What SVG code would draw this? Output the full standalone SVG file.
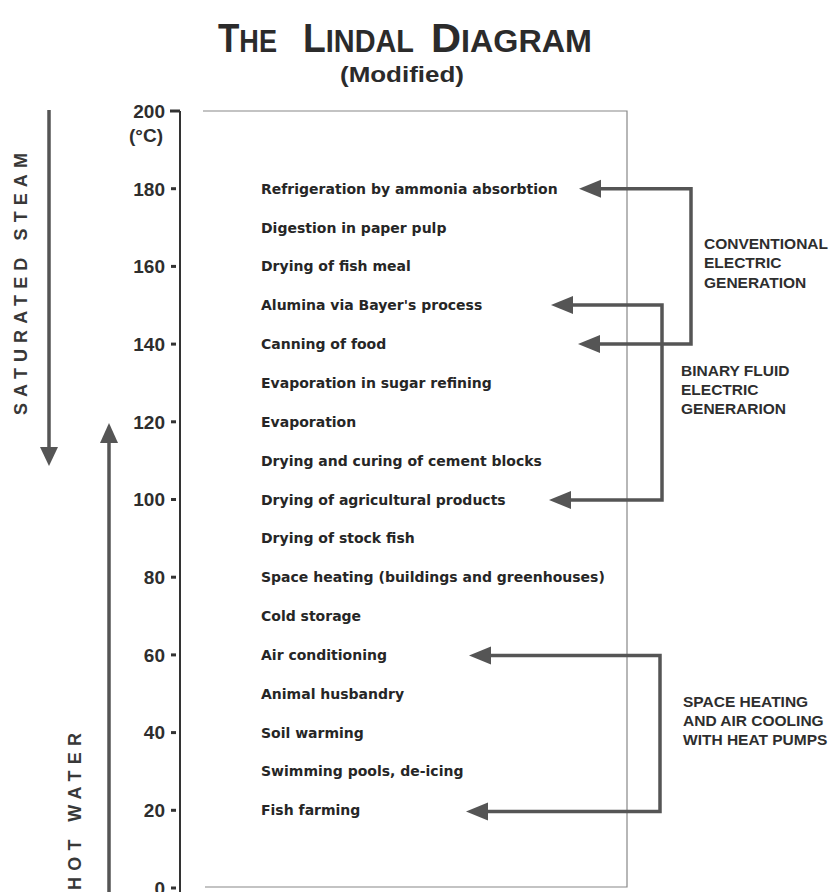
<svg xmlns="http://www.w3.org/2000/svg" width="835" height="892" viewBox="0 0 835 892">
<style>
.title{font-family:"Liberation Sans",Arial,sans-serif;font-weight:bold;fill:#2b2b2b}
.tick{font-family:"Liberation Sans",Arial,sans-serif;font-weight:bold;font-size:19px;fill:#2e2e2e;text-anchor:end}
.item{font-family:"DejaVu Sans",sans-serif;font-weight:bold;font-size:14px;fill:#262626}
.grp{font-family:"Liberation Sans",Arial,sans-serif;font-weight:bold;font-size:15.5px;fill:#2e2e2e}
.side{font-family:"Liberation Sans",Arial,sans-serif;font-weight:bold;font-size:18px;fill:#383838}
.axis{stroke:#333;stroke-width:2;fill:none}
.tk{stroke:#333;stroke-width:3}
.box{stroke:#888;stroke-width:1.2;fill:none}
.conn{stroke:#555;stroke-width:3.5;fill:none}
.head{fill:#555}
</style>
<defs>
<marker id="ah" markerUnits="userSpaceOnUse" markerWidth="26" markerHeight="20" viewBox="-2 -10 26 20" refX="1" refY="0" orient="auto-start-reverse">
<path d="M0,-9 L22,0 L0,9 z" fill="#555"/>
</marker>
</defs>
<rect width="835" height="892" fill="#fff"/>

<g id="title">
<text class="title" x="218" y="52" textLength="59" lengthAdjust="spacingAndGlyphs"><tspan font-size="40">T</tspan><tspan font-size="31">HE</tspan></text>
<text class="title" x="303" y="52" textLength="111" lengthAdjust="spacingAndGlyphs"><tspan font-size="40">L</tspan><tspan font-size="31">INDAL</tspan></text>
<text class="title" x="431" y="52" textLength="161" lengthAdjust="spacingAndGlyphs"><tspan font-size="40">D</tspan><tspan font-size="31">IAGRAM</tspan></text>
<text class="title" x="402" y="82" font-size="22" text-anchor="middle" textLength="124" lengthAdjust="spacingAndGlyphs">(Modified)</text>
</g>

<g id="axis">
<line class="axis" x1="180" y1="111" x2="180" y2="892"/>
<g class="tk">
<line x1="170" y1="111" x2="180" y2="111"/>
<line x1="171" y1="188.7" x2="176" y2="188.7"/>
<line x1="171" y1="266.4" x2="176" y2="266.4"/>
<line x1="171" y1="344.1" x2="176" y2="344.1"/>
<line x1="171" y1="421.8" x2="176" y2="421.8"/>
<line x1="171" y1="499.5" x2="176" y2="499.5"/>
<line x1="171" y1="577.2" x2="176" y2="577.2"/>
<line x1="171" y1="654.9" x2="176" y2="654.9"/>
<line x1="171" y1="732.6" x2="176" y2="732.6"/>
<line x1="171" y1="810.3" x2="176" y2="810.3"/>
<line x1="171" y1="888" x2="176" y2="888"/>
</g>
<text class="tick" x="165" y="118">200</text>
<text class="tick" x="163" y="142" font-size="13.5">(°C)</text>
<text class="tick" x="165" y="195.5">180</text>
<text class="tick" x="165" y="273.2">160</text>
<text class="tick" x="165" y="350.9">140</text>
<text class="tick" x="165" y="428.6">120</text>
<text class="tick" x="165" y="506.3">100</text>
<text class="tick" x="165" y="584">80</text>
<text class="tick" x="165" y="661.7">60</text>
<text class="tick" x="165" y="739.4">40</text>
<text class="tick" x="165" y="817.1">20</text>
<text class="tick" x="165" y="894.5">0</text>
</g>

<g id="frame">
<path class="box" d="M203,111 H627 V887 H205"/>
</g>

<g id="side-labels">
<line x1="49" y1="110" x2="49" y2="449" stroke="#555" stroke-width="3.5"/>
<polygon class="head" points="40,447 58,447 49,466"/>
<line x1="109" y1="892" x2="109" y2="441" stroke="#555" stroke-width="3.5"/>
<polygon class="head" points="100,443 118,443 109,423"/>
<text class="side" transform="translate(27,415) rotate(-90)" textLength="262" lengthAdjust="spacing">SATURATED STEAM</text>
<text class="side" transform="translate(81,890) rotate(-90)" textLength="157" lengthAdjust="spacing">HOT WATER</text>
</g>

<g id="items">
<text class="item" x="261" y="193.7">Refrigeration by ammonia absorbtion</text>
<text class="item" x="261" y="232.5">Digestion in paper pulp</text>
<text class="item" x="261" y="271.4">Drying of fish meal</text>
<text class="item" x="261" y="310.2">Alumina via Bayer's process</text>
<text class="item" x="261" y="349.1">Canning of food</text>
<text class="item" x="261" y="387.9">Evaporation in sugar refining</text>
<text class="item" x="261" y="426.8">Evaporation</text>
<text class="item" x="261" y="465.6">Drying and curing of cement blocks</text>
<text class="item" x="261" y="504.5">Drying of agricultural products</text>
<text class="item" x="261" y="543.3">Drying of stock fish</text>
<text class="item" x="261" y="582.2">Space heating (buildings and greenhouses)</text>
<text class="item" x="261" y="621">Cold storage</text>
<text class="item" x="261" y="659.9">Air conditioning</text>
<text class="item" x="261" y="698.7">Animal husbandry</text>
<text class="item" x="261" y="737.6">Soil warming</text>
<text class="item" x="261" y="776.4">Swimming pools, de-icing</text>
<text class="item" x="261" y="815.3">Fish farming</text>
</g>

<g id="conventional">
<text class="grp" x="704" y="249">CONVENTIONAL</text>
<text class="grp" x="704" y="268">ELECTRIC</text>
<text class="grp" x="704" y="288">GENERATION</text>
</g>
<g id="binary">
<text class="grp" x="681" y="376">BINARY FLUID</text>
<text class="grp" x="681" y="395">ELECTRIC</text>
<text class="grp" x="681" y="414">GENERARION</text>
</g>
<g id="heatpumps">
<text class="grp" x="683" y="707">SPACE HEATING</text>
<text class="grp" x="683" y="726">AND AIR COOLING</text>
<text class="grp" x="683" y="745">WITH HEAT PUMPS</text>
</g>

<g id="connectors">
<path class="conn" d="M600,188.7 H691 V344 H599" marker-start="url(#ah)" marker-end="url(#ah)"/>
<path class="conn" d="M572,305 H662 V500 H570" marker-start="url(#ah)" marker-end="url(#ah)"/>
<path class="conn" d="M490,655.5 H660 V811.5 H487" marker-start="url(#ah)" marker-end="url(#ah)"/>
</g>
</svg>
